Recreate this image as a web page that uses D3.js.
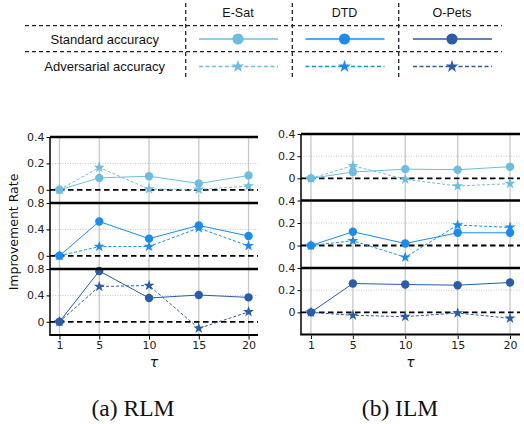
<!DOCTYPE html>
<html>
<head>
<meta charset="utf-8">
<script src="https://cdn.jsdelivr.net/npm/d3@7"></script>
<style>
  html, body { margin: 0; padding: 0; background: #fff; }
  svg { display: block; }
</style>
</head>
<body>
<svg id="chart" width="524" height="424"></svg>
<script>
// x values
const taus = [1, 5, 10, 15, 20];
const datasets = ["E-Sat", "DTD", "O-Pets"];
const colors = ["#6cbde0", "#1a8cf0", "#2a5ca8"];
const rowLabels = ["Standard accuracy", "Adversarial accuracy"];

// (a) RLM
const rlmEsatStd = [0, 0.09, 0.103, 0.048, 0.108];
const rlmEsatAdv = [0, 0.169, 0.005, 0.003, 0.028];
const rlmDtdStd = [0, 0.52, 0.26, 0.46, 0.30];
const rlmDtdAdv = [0, 0.14, 0.14, 0.42, 0.15];
const rlmPetsStd = [0, 0.77, 0.36, 0.406, 0.37];
const rlmPetsAdv = [0, 0.535, 0.55, -0.10, 0.15];

// (b) ILM
const ilmEsatStd = [0, 0.057, 0.083, 0.078, 0.105];
const ilmEsatAdv = [0, 0.114, -0.009, -0.069, -0.048];
const ilmDtdStd = [0, 0.122, 0.018, 0.113, 0.113];
const ilmDtdAdv = [0, 0.042, -0.104, 0.182, 0.161];
const ilmPetsStd = [0, 0.26, 0.251, 0.245, 0.269];
const ilmPetsAdv = [0, -0.027, -0.039, -0.006, -0.054];

const rlmDomains = [[-0.1, 0.4], [-0.2, 0.8], [-0.2, 0.8]];
const rlmTicks = [[0, 0.2, 0.4], [0, 0.4, 0.8], [0, 0.4, 0.8]];
const ilmDomains = [[-0.2, 0.4], [-0.2, 0.4], [-0.2, 0.4]];
const ilmTicks = [[0, 0.2, 0.4], [0, 0.2, 0.4], [0, 0.2, 0.4]];

const svg = d3.select("#chart");
const sans = "'DejaVu Sans', sans-serif";
const arial = "'Liberation Sans', Arial, sans-serif";
const serif = "'Liberation Serif', 'Times New Roman', serif";

const tickFmt = v => v === 0 ? "0" : d3.format(".1f")(v);

// ---------- legend table ----------
const legend = svg.append("g");
const colX = [238, 344.5, 452];
const rowY = [39, 66.5];

[25.7, 51.7].forEach(y => {
    legend.append("line")
        .attr("x1", 25).attr("x2", 502)
        .attr("y1", y).attr("y2", y)
        .attr("stroke", "#222").attr("stroke-width", 1.3)
        .attr("stroke-dasharray", "4,3");
});
[185.7, 292.3, 398.7].forEach(x => {
    legend.append("line")
        .attr("x1", x).attr("x2", x)
        .attr("y1", 3).attr("y2", 80)
        .attr("stroke", "#222").attr("stroke-width", 1.3)
        .attr("stroke-dasharray", "4,3");
});

datasets.forEach((name, i) => {
    legend.append("text")
        .attr("x", colX[i]).attr("y", 12.7)
        .attr("dy", "0.35em")
        .attr("text-anchor", "middle")
        .attr("font-family", arial).attr("font-size", 12.5)
        .attr("fill", "#111")
        .text(name);

    legend.append("line")
        .attr("x1", colX[i] - 39).attr("x2", colX[i] + 40)
        .attr("y1", rowY[0]).attr("y2", rowY[0])
        .attr("stroke", colors[i]).attr("stroke-width", 1.5);
    legend.append("circle")
        .attr("cx", colX[i]).attr("cy", rowY[0]).attr("r", 5.6)
        .attr("fill", colors[i]);

    legend.append("line")
        .attr("x1", colX[i] - 39).attr("x2", colX[i] + 40)
        .attr("y1", rowY[1]).attr("y2", rowY[1])
        .attr("stroke", colors[i]).attr("stroke-width", 1.5)
        .attr("stroke-dasharray", "4,2.5");
    legend.append("path")
        .attr("transform", `translate(${colX[i]},${rowY[1]})`)
        .attr("d", d3.symbol(d3.symbolStar, 52)())
        .attr("fill", colors[i]);
});

rowLabels.forEach((t, i) => {
    legend.append("text")
        .attr("x", 104.7).attr("y", rowY[i])
        .attr("dy", "0.35em")
        .attr("text-anchor", "middle")
        .attr("font-family", arial).attr("font-size", 13)
        .attr("fill", "#111")
        .text(t);
});

// ---------- panels ----------
function drawPanel(opt) {
    const g = svg.append("g");
    const x = d3.scaleLinear().domain([0.05, 20.95]).range([opt.left, opt.right]);
    const top = opt.tops[0], bottom = opt.tops[3];

    // vertical grid
    g.selectAll("line.vgrid").data(taus).join("line")
        .attr("class", "vgrid")
        .attr("x1", d => x(d)).attr("x2", d => x(d))
        .attr("y1", top).attr("y2", bottom)
        .attr("stroke", "#c8c8c8").attr("stroke-width", 1.3);

    opt.series.forEach((s, k) => {
        const y = d3.scaleLinear().domain(opt.domains[k]).range([opt.tops[k + 1], opt.tops[k]]);
        const sg = g.append("g");

        // horizontal dotted grid
        sg.selectAll("line.hgrid").data(opt.ticks[k].filter(v => v !== 0)).join("line")
            .attr("x1", opt.left).attr("x2", opt.right)
            .attr("y1", d => y(d)).attr("y2", d => y(d))
            .attr("stroke", "#b8b8b8").attr("stroke-width", 0.8)
            .attr("stroke-dasharray", "1,1.5");

        // zero line
        sg.append("line")
            .attr("x1", opt.left).attr("x2", opt.right)
            .attr("y1", y(0)).attr("y2", y(0))
            .attr("stroke", "#000").attr("stroke-width", 1.8)
            .attr("stroke-dasharray", "5.5,3.5");

        // y axis ticks and labels
        const axis = d3.axisLeft(y).tickValues(opt.ticks[k]).tickFormat(tickFmt)
            .tickSize(3.5).tickPadding(2);
        sg.append("g")
            .attr("transform", `translate(${opt.left},0)`)
            .call(axis)
            .call(a => a.select(".domain").remove())
            .call(a => a.selectAll("text")
                .attr("font-family", sans).attr("font-size", 11).attr("fill", "#222"));

        const line = d3.line().x((d, i) => x(taus[i])).y(d => y(d));
        const c = colors[k];

        sg.append("path").datum(s.std)
            .attr("d", line).attr("fill", "none")
            .attr("stroke", c).attr("stroke-width", 1);
        sg.append("path").datum(s.adv)
            .attr("d", line).attr("fill", "none")
            .attr("stroke", c).attr("stroke-width", 1)
            .attr("stroke-dasharray", "3,2");

        sg.selectAll("circle").data(s.std).join("circle")
            .attr("cx", (d, i) => x(taus[i])).attr("cy", d => y(d))
            .attr("r", 4.2).attr("fill", c);
        sg.selectAll("path.star").data(s.adv).join("path")
            .attr("class", "star")
            .attr("transform", (d, i) => `translate(${x(taus[i])},${y(d)})`)
            .attr("d", d3.symbol(d3.symbolStar, 38)())
            .attr("fill", c);

        // thick top border of each subplot
        sg.append("line")
            .attr("x1", opt.left).attr("x2", opt.right)
            .attr("y1", opt.tops[k]).attr("y2", opt.tops[k])
            .attr("stroke", "#000").attr("stroke-width", 2.6);
    });

    // left spine and bottom spine
    g.append("line")
        .attr("x1", opt.left).attr("x2", opt.left)
        .attr("y1", top).attr("y2", bottom)
        .attr("stroke", "#000").attr("stroke-width", 1.5);
    g.append("line")
        .attr("x1", opt.left - 0.75).attr("x2", opt.right)
        .attr("y1", bottom).attr("y2", bottom)
        .attr("stroke", "#000").attr("stroke-width", 2);

    // x axis
    g.append("g")
        .attr("transform", `translate(0,${bottom + 1})`)
        .call(d3.axisBottom(x).tickValues(taus).tickSize(3.5).tickPadding(2))
        .call(a => a.select(".domain").remove())
        .call(a => a.selectAll("text")
            .attr("font-family", sans).attr("font-size", 11).attr("fill", "#222"));

    g.append("text")
        .attr("x", (opt.left + opt.right) / 2).attr("y", 367)
        .attr("text-anchor", "middle")
        .attr("font-family", sans).attr("font-style", "italic").attr("font-size", 14)
        .attr("fill", "#111")
        .text("\u03C4");

    g.append("text")
        .attr("x", opt.captionX).attr("y", 416)
        .attr("text-anchor", "middle")
        .attr("font-family", serif).attr("font-size", 23.5)
        .attr("fill", "#111")
        .text(opt.caption);
}

drawPanel({
    left: 50, right: 258,
    tops: [137, 203, 269, 335],
    domains: rlmDomains, ticks: rlmTicks,
    series: [
        {std: rlmEsatStd, adv: rlmEsatAdv},
        {std: rlmDtdStd, adv: rlmDtdAdv},
        {std: rlmPetsStd, adv: rlmPetsAdv}
    ],
    caption: "(a) RLM", captionX: 133
});

drawPanel({
    left: 301, right: 520,
    tops: [134, 200.5, 268, 334.5],
    domains: ilmDomains, ticks: ilmTicks,
    series: [
        {std: ilmEsatStd, adv: ilmEsatAdv},
        {std: ilmDtdStd, adv: ilmDtdAdv},
        {std: ilmPetsStd, adv: ilmPetsAdv}
    ],
    caption: "(b) ILM", captionX: 400
});

svg.append("text")
    .attr("transform", "translate(18,232) rotate(-90)")
    .attr("text-anchor", "middle")
    .attr("font-family", sans).attr("font-size", 12.5)
    .attr("fill", "#111")
    .text("Improvement Rate");
</script>
</body>
</html>
